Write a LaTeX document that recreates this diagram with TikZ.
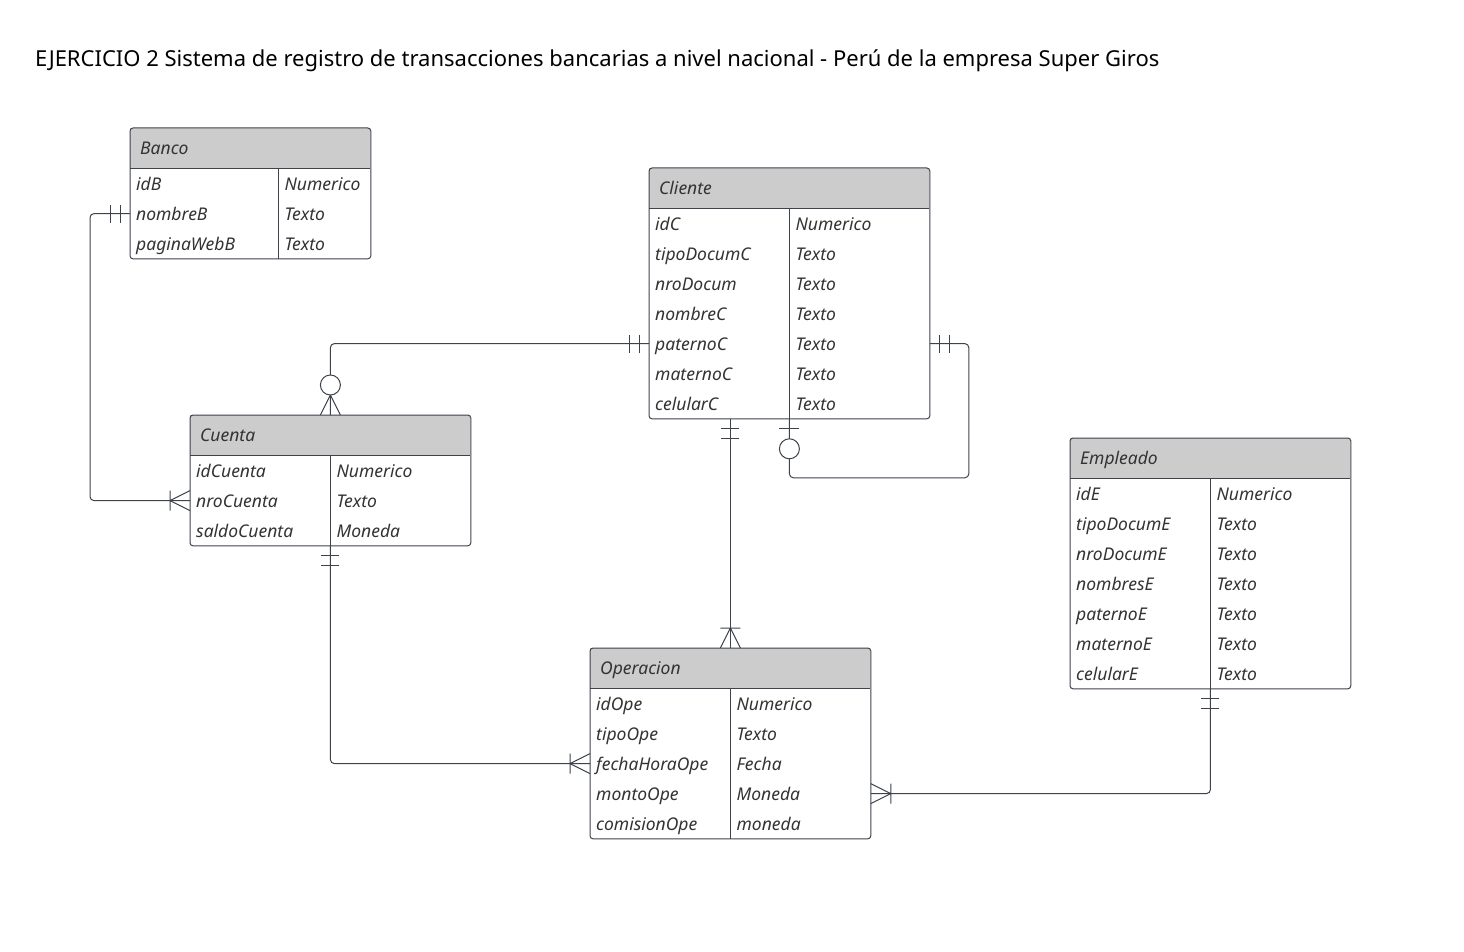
\documentclass[tikz,border=0pt]{standalone}
\usepackage{fontspec}
\setmainfont{Noto Sans}
\usetikzlibrary{calc}

\definecolor{trazo}{HTML}{3D424B}
\definecolor{letra}{HTML}{333333}
\definecolor{gris}{HTML}{CCCCCC}

\tikzset{
  linea/.style={draw=trazo, line width=1pt},
  cabecera/.style={fill=gris, minimum height=40pt, inner xsep=10pt, inner ysep=0pt,
    text height=15pt, text depth=2pt, text=letra, font=\fontsize{17.5}{20}\selectfont\itshape},
  celda/.style={minimum height=30pt, inner xsep=6pt, inner ysep=0pt,
    text height=15pt, text depth=2pt, text=letra, font=\fontsize{17.5}{20}\selectfont\itshape},
  % marcas de cardinalidad (x local: hacia fuera de la tabla)
  uno/.pic={\draw[linea] (10,-9) -- (10,9) (20,-9) -- (20,9);},
  unomuchos/.pic={\draw[linea] (0,-10) -- (20,0) -- (0,10) (20,-10) -- (20,10);},
  ceromuchos/.pic={\draw[linea] (0,-10) -- (20,0) -- (0,10);
    \draw[linea, fill=white] (30,0) circle [radius=10];},
  ceroouno/.pic={\draw[linea] (10,-10) -- (10,10);
    \draw[linea, fill=white] (30,0) circle [radius=10];}
}

% nombre, x, y, ancho total, ancho de la columna de campos, filas, campos
\newcommand\entidad[7]{%
  \node[cabecera, text width={#4-20pt}, anchor=north west] (#1) at (#2,#3) {#1};
  \foreach \c/\t [count=\i] in {#7} {
    \node[celda, text width={#5-12pt}, anchor=north west] (#1-\i)
      at ($(#1.south west)+(0,{30*(\i-1)})$) {\c};
    \node[celda, text width={#4-#5-12pt}, anchor=west] (#1-t\i) at (#1-\i.east) {\t};
  }
  \draw[linea, rounded corners=3pt] (#1.north west) rectangle (#1-t#6.south east);
  \draw[linea] (#1.south west) -- (#1.south east);
  \draw[linea] (#1-1.north east) -- (#1-#6.south east);
}

\begin{document}
\begin{tikzpicture}[x=1pt, y=-1pt]
\useasboundingbox (0,0) rectangle (1464,952);

\node[anchor=base west, text=black, inner sep=0pt, font=\fontsize{22}{26}\selectfont] (titulo) at (35,67)
  {EJERCICIO 2 Sistema de registro de transacciones bancarias a nivel nacional - Perú de la empresa Super Giros};

\entidad{Banco}{130}{128}{240pt}{148pt}{3}{idB/Numerico, nombreB/Texto, paginaWebB/Texto}
\entidad{Cliente}{649}{168}{280pt}{140pt}{7}{idC/Numerico, tipoDocumC/Texto, nroDocum/Texto,
  nombreC/Texto, paternoC/Texto, maternoC/Texto, celularC/Texto}
\entidad{Cuenta}{190}{415}{280pt}{140pt}{3}{idCuenta/Numerico, nroCuenta/Texto, saldoCuenta/Moneda}
\entidad{Empleado}{1070}{438}{280pt}{140pt}{7}{idE/Numerico, tipoDocumE/Texto, nroDocumE/Texto,
  nombresE/Texto, paternoE/Texto, maternoE/Texto, celularE/Texto}
\entidad{Operacion}{590}{648}{280pt}{140pt}{5}{idOpe/Numerico, tipoOpe/Texto, fechaHoraOpe/Fecha,
  montoOpe/Moneda, comisionOpe/moneda}

% relaciones
\draw[linea, rounded corners=4pt] (Banco-2.west) -- ++(-40,0) |- (Cuenta-2.west);
\draw[linea, rounded corners=4pt] (Cliente-5.west) -| (Cuenta.north -| Cuenta-1.east);
\draw[linea, rounded corners=4pt] (Cliente-t5.east) -- ++(39,0)
  |- ($(Cliente-7.south east)+(0,59)$) -- (Cliente-7.south east);
\draw[linea] (Cliente-7.south -| Operacion-1.east) -- (Operacion.north -| Operacion-1.east);
\draw[linea, rounded corners=4pt] (Cuenta-3.south east) |- (Operacion-3.west);
\draw[linea, rounded corners=4pt] (Empleado-7.south east) |- (Operacion-t4.east);

\pic[rotate=180] at (Banco-2.west) {uno};
\pic[rotate=180] at (Cuenta-2.west) {unomuchos};
\pic[rotate=180] at (Cliente-5.west) {uno};
\pic[rotate=90] at (Cuenta.north -| Cuenta-1.east) {ceromuchos};
\pic at (Cliente-t5.east) {uno};
\pic[rotate=-90] at (Cliente-7.south east) {ceroouno};
\pic[rotate=-90] at (Cliente-7.south -| Operacion-1.east) {uno};
\pic[rotate=90] at (Operacion.north -| Operacion-1.east) {unomuchos};
\pic[rotate=-90] at (Cuenta-3.south east) {uno};
\pic[rotate=180] at (Operacion-3.west) {unomuchos};
\pic[rotate=-90] at (Empleado-7.south east) {uno};
\pic at (Operacion-t4.east) {unomuchos};

\end{tikzpicture}
\end{document}
